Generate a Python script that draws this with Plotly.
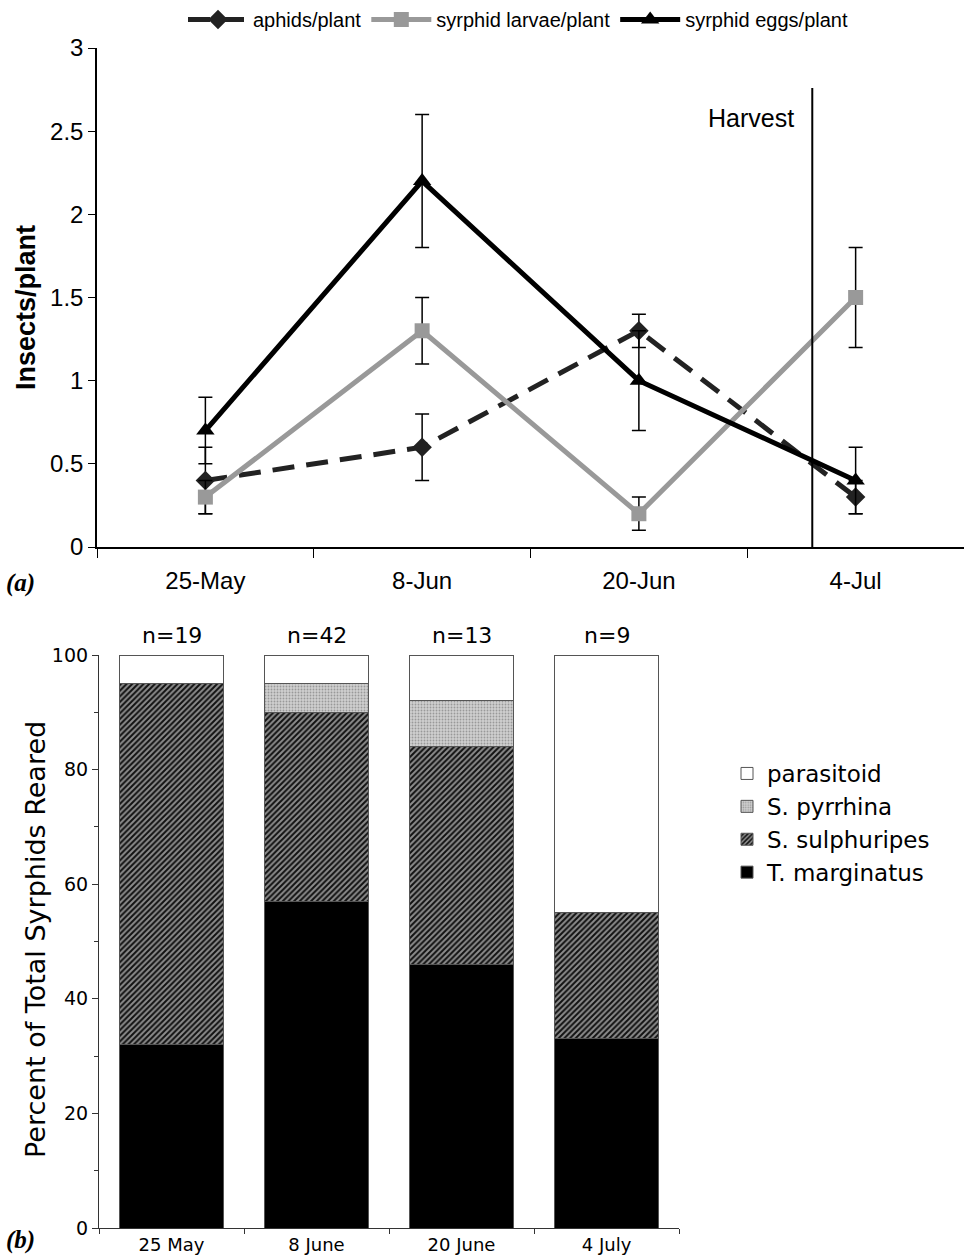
import plotly.graph_objects as go

# ---------- Panel (a) data ----------
dates_a = ["25-May", "8-Jun", "20-Jun", "4-Jul"]
aphids = [0.4, 0.6, 1.3, 0.3]
aphids_err = [0.2, 0.2, 0.1, 0.1]
larvae = [0.3, 1.3, 0.2, 1.5]
larvae_err = [0.1, 0.2, 0.1, 0.3]
eggs = [0.7, 2.2, 1.0, 0.4]
eggs_err = [0.2, 0.4, 0.3, 0.2]
yticks_a = [0, 0.5, 1, 1.5, 2, 2.5, 3]
ytick_labels_a = ["0", "0.5", "1", "1.5", "2", "2.5", "3"]
harvest_x = 2.8
harvest_top = 2.76

# ---------- Panel (b) data ----------
dates_b = ["25 May", "8 June", "20 June", "4 July"]
n_labels = ["n=19", "n=42", "n=13", "n=9"]
t_marginatus = [32, 57, 46, 33]
s_sulphuripes = [63, 33, 38, 22]
s_pyrrhina = [0, 5, 8, 0]
parasitoid = [5, 5, 8, 45]

ARIAL = "Arial, Liberation Sans, sans-serif"
VERD = "Verdana, DejaVu Sans, sans-serif"

fig = go.Figure()

err_style = dict(type="data", color="black", thickness=1.5, width=7, visible=True)

fig.add_trace(go.Scatter(
    x=dates_a, y=aphids, name="aphids/plant", mode="lines+markers",
    line=dict(color="#222222", width=5, dash="22px,12px"),
    marker=dict(symbol="diamond", size=15, color="#222222"),
    error_y=dict(array=aphids_err, **err_style),
    xaxis="x", yaxis="y", legend="legend"))
fig.add_trace(go.Scatter(
    x=dates_a, y=larvae, name="syrphid larvae/plant", mode="lines+markers",
    line=dict(color="#999999", width=5),
    marker=dict(symbol="square", size=15, color="#999999"),
    error_y=dict(array=larvae_err, **err_style),
    xaxis="x", yaxis="y", legend="legend"))
fig.add_trace(go.Scatter(
    x=dates_a, y=eggs, name="syrphid eggs/plant", mode="lines+markers",
    line=dict(color="black", width=5),
    marker=dict(symbol="triangle-up", size=16, color="black"),
    error_y=dict(array=eggs_err, **err_style),
    xaxis="x", yaxis="y", legend="legend"))

bar_line = dict(color="#555555", width=1)
fig.add_trace(go.Bar(x=dates_b, y=t_marginatus, name="T. marginatus",
                     marker=dict(color="black", line=bar_line),
                     xaxis="x2", yaxis="y2", legend="legend2"))
fig.add_trace(go.Bar(x=dates_b, y=s_sulphuripes, name="S. sulphuripes",
                     marker=dict(color="#7a7a7a", line=bar_line,
                                 pattern=dict(shape="/", fgcolor="#111111", bgcolor="#8c8c8c",
                                              size=4, solidity=0.5)),
                     xaxis="x2", yaxis="y2", legend="legend2"))
fig.add_trace(go.Bar(x=dates_b, y=s_pyrrhina, name="S. pyrrhina",
                     marker=dict(color="#c8c8c8", line=bar_line,
                                 pattern=dict(shape=".", fgcolor="#999999", bgcolor="#d0d0d0",
                                              size=3, solidity=0.3)),
                     xaxis="x2", yaxis="y2", legend="legend2"))
fig.add_trace(go.Bar(x=dates_b, y=parasitoid, name="parasitoid",
                     marker=dict(color="white", line=bar_line),
                     xaxis="x2", yaxis="y2", legend="legend2"))

W, H = 964, 1258
def py(p):
    return 1 - p / H

fig.update_layout(
    template="none",
    width=W, height=H, margin=dict(l=0, r=0, t=0, b=0, pad=0),
    paper_bgcolor="white", plot_bgcolor="white",
    barmode="stack", bargap=0.28,
    showlegend=True,
    xaxis=dict(domain=[97 / W, 1.0], anchor="y", type="category",
               range=[-0.5, 3.5], showline=True, linecolor="black", linewidth=1.5,
               ticks="outside", tickson="boundaries", ticklen=9, tickcolor="black",
               showgrid=False, zeroline=False, ticklabelstandoff=11, automargin=False,
               tickfont=dict(family=ARIAL, size=24, color="black")),
    yaxis=dict(domain=[py(547), py(48)], anchor="x", range=[0, 3],
               tickvals=yticks_a, ticktext=ytick_labels_a,
               showline=True, linecolor="black", linewidth=1.5,
               ticks="outside", ticklen=7, tickcolor="black",
               showgrid=False, zeroline=False, automargin=False,
               tickfont=dict(family=ARIAL, size=24, color="black")),
    xaxis2=dict(domain=[99 / W, 679 / W], anchor="y2", type="category",
                showline=True, linecolor="#333333", linewidth=1.2,
                ticks="outside", tickson="boundaries", ticklen=5, tickcolor="#333333",
                showgrid=False, zeroline=False, automargin=False,
                tickfont=dict(family=VERD, size=18, color="black")),
    yaxis2=dict(domain=[py(1228), py(655)], anchor="x2", range=[0, 100],
                tickvals=[0, 20, 40, 60, 80, 100],
                showline=True, linecolor="#333333", linewidth=1.2,
                ticks="outside", ticklen=6, tickcolor="#333333",
                minor=dict(dtick=10, ticks="outside", ticklen=4, tickcolor="#333333",
                           showgrid=False),
                showgrid=False, zeroline=False, automargin=False,
                tickfont=dict(family=VERD, size=19, color="black")),
    legend=dict(orientation="h", x=518 / W, y=1.0, xanchor="center", yanchor="top",
                font=dict(family=ARIAL, size=20, color="black"),
                bgcolor="rgba(0,0,0,0)", itemwidth=60, tracegroupgap=0),
    legend2=dict(orientation="v", x=727 / W, y=py(752), xanchor="left", yanchor="top",
                 traceorder="reversed",
                 font=dict(family=VERD, size=23, color="black"),
                 bgcolor="rgba(0,0,0,0)", itemwidth=30, tracegroupgap=2),
)

annotations = [
    dict(text="Insects/plant", x=26 / W, y=py(308), xref="paper", yref="paper",
         xanchor="center", yanchor="middle", textangle=-90, showarrow=False,
         font=dict(family=ARIAL, size=27, color="black", weight="bold")),
    dict(text="Percent of Total Syrphids Reared", x=35 / W, y=py(940), xref="paper", yref="paper",
         xanchor="center", yanchor="middle", textangle=-90, showarrow=False,
         font=dict(family=VERD, size=27, color="black")),
    dict(text="Harvest", x=harvest_x, y=2.58, xref="x", yref="y", xanchor="right",
         yanchor="middle", xshift=-16, showarrow=False,
         font=dict(family=ARIAL, size=25, color="black")),
    dict(text="<b><i>(a)</i></b>", x=20 / W, y=py(583), xref="paper", yref="paper",
         xanchor="center", yanchor="middle", showarrow=False,
         font=dict(family="Liberation Serif, Times New Roman, serif", size=25, color="black")),
    dict(text="<b><i>(b)</i></b>", x=20 / W, y=py(1240), xref="paper", yref="paper",
         xanchor="center", yanchor="middle", showarrow=False,
         font=dict(family="Liberation Serif, Times New Roman, serif", size=25, color="black")),
]
for d, n in zip(dates_b, n_labels):
    annotations.append(dict(text=n, x=d, y=100, xref="x2", yref="y2", yanchor="bottom",
                            xanchor="center", yshift=5, showarrow=False,
                            font=dict(family=VERD, size=22, color="black")))
fig.update_layout(annotations=annotations)

fig.add_shape(type="line", x0=harvest_x, x1=harvest_x, y0=0, y1=harvest_top,
              xref="x", yref="y", line=dict(color="black", width=2))

fig.write_html("out.html", config={"displayModeBar": False},
               post_script="document.body.style.margin='0';document.body.style.overflow='hidden';")
